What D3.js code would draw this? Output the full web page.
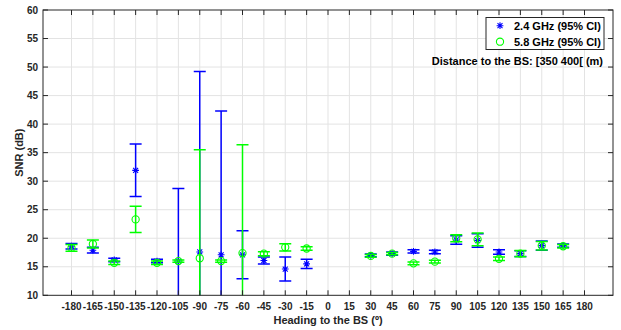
<!DOCTYPE html>
<html><head><meta charset="utf-8">
<script src="https://cdn.jsdelivr.net/npm/d3@7"></script>
<style>body{margin:0;background:#fff}svg{display:block}text{font-family:"Liberation Sans",Arial,sans-serif;font-weight:bold}</style>
</head><body><svg id="c" width="621" height="330"></svg>
<script>
const headings = [-180,-165,-150,-135,-120,-105,-90,-75,-60,-45,-30,-15,0,15,30,45,60,75,90,105,120,135,150,165];
const snr24 = [18.6,17.9,16.2,31.9,16.0,16.0,17.6,17.1,17.1,16.1,14.6,15.5,null,null,17.0,17.3,17.7,17.6,19.7,19.6,17.6,17.3,18.7,18.7];
const ci24  = [0.5,0.5,0.3,4.6,0.3,12.7,31.6,25.2,4.2,0.6,2.1,0.8,null,null,0.25,0.3,0.3,0.3,0.75,1.2,0.4,0.5,0.8,0.3];
const snr58 = [18.3,19.0,15.7,23.3,15.7,16.0,16.5,16.0,17.4,17.3,18.4,18.2,null,null,16.9,17.3,15.6,15.9,20.0,19.8,16.4,17.3,18.7,18.6];
const ci58  = [0.6,0.7,0.3,2.3,0.3,0.2,19.0,0.2,19.0,0.35,0.65,0.3,null,null,0.25,0.2,0.25,0.25,0.6,1.1,0.3,0.55,0.75,0.3];
const xTicks = d3.range(-180,181,15);
const yTicks = d3.range(10,61,5);
const seriesNames = ["2.4 GHz (95% CI)","5.8 GHz (95% CI)"];
const seriesColors = ["#0000ff","#00ff00"];
const xLabel = "Heading to the BS (º)", yLabel = "SNR (dB)";
const note = "Distance to the BS: [350 400[ (m)";

const L=43,R=613,T=10,B=295.3;
const svg=d3.select("#c");
const x=d3.scaleLinear().domain([-200,200]).range([L,R]);
const y=d3.scaleLinear().domain([10,60]).range([B,T]);
const axisCol="#262626";

// grid
svg.append("g").selectAll("line").data(xTicks).join("line")
 .attr("x1",d=>x(d)).attr("x2",d=>x(d)).attr("y1",T).attr("y2",B)
 .attr("stroke","#e3e3e3").attr("stroke-width",1);
svg.append("g").selectAll("line").data(yTicks.filter(v=>v>10&&v<60)).join("line")
 .attr("x1",L).attr("x2",R).attr("y1",d=>y(d)).attr("y2",d=>y(d))
 .attr("stroke","#e3e3e3").attr("stroke-width",1);

// clip
svg.append("clipPath").attr("id","pc").append("rect").attr("x",L).attr("y",T).attr("width",R-L).attr("height",B-T);
const plot=svg.append("g").attr("clip-path","url(#pc)");

const series=[{m:snr24,c:ci24,col:seriesColors[0],mk:"star"},{m:snr58,c:ci58,col:seriesColors[1],mk:"circle"}];
const cap=6;
series.forEach(s=>{
  const g=plot.append("g");
  const pts=headings.map((h,i)=>({h,m:s.m[i],c:s.c[i]})).filter(d=>d.m!=null);
  pts.forEach(d=>{
    const cx=x(d.h), lo=y(d.m-d.c), hi=y(d.m+d.c);
    g.append("line").attr("x1",cx).attr("x2",cx).attr("y1",lo).attr("y2",hi).attr("stroke",s.col).attr("stroke-width",1.5);
    [lo,hi].forEach(yy=>g.append("line").attr("x1",cx-cap).attr("x2",cx+cap).attr("y1",yy).attr("y2",yy).attr("stroke",s.col).attr("stroke-width",1.5));
  });
  pts.forEach(d=>drawMarker(g,s.mk,x(d.h),y(d.m),s.col));
});

function drawMarker(g,mk,cx,cy,col){
  if(mk==="circle"){
    g.append("circle").attr("cx",cx).attr("cy",cy).attr("r",3.6).attr("fill","none").attr("stroke",col).attr("stroke-width",1.1);
  } else {
    const r=3.4,rd=2.5;
    const p=`M${cx-r},${cy}L${cx+r},${cy}M${cx},${cy-r}L${cx},${cy+r}M${cx-rd},${cy-rd}L${cx+rd},${cy+rd}M${cx-rd},${cy+rd}L${cx+rd},${cy-rd}`;
    g.append("path").attr("d",p).attr("stroke",col).attr("stroke-width",1.1).attr("fill","none");
  }
}

// axes box + ticks (inward)
const ax=svg.append("g").attr("stroke",axisCol).attr("stroke-width",1);
ax.append("rect").attr("x",L).attr("y",T).attr("width",R-L).attr("height",B-T).attr("fill","none");
const tl=5;
xTicks.forEach(v=>{
  ax.append("line").attr("x1",x(v)).attr("x2",x(v)).attr("y1",B).attr("y2",B-tl);
  ax.append("line").attr("x1",x(v)).attr("x2",x(v)).attr("y1",T).attr("y2",T+tl);
});
yTicks.forEach(v=>{
  ax.append("line").attr("x1",L).attr("x2",L+tl).attr("y1",y(v)).attr("y2",y(v));
  ax.append("line").attr("x1",R).attr("x2",R-tl).attr("y1",y(v)).attr("y2",y(v));
});
// tick labels
svg.append("g").selectAll("text").data(xTicks).join("text")
 .attr("x",d=>x(d)).attr("y",310).attr("text-anchor","middle").attr("font-size",10).attr("fill",axisCol).text(d=>d);
svg.append("g").selectAll("text").data(yTicks).join("text")
 .attr("x",38).attr("y",d=>y(d)+3.6).attr("text-anchor","end").attr("font-size",10).attr("fill",axisCol).text(d=>d);
// axis labels
svg.append("text").attr("x",(L+R)/2).attr("y",324).attr("text-anchor","middle").attr("font-size",11).attr("fill",axisCol).text(xLabel);
svg.append("text").attr("transform",`translate(23,${(T+B)/2}) rotate(-90)`).attr("text-anchor","middle").attr("font-size",11).attr("fill",axisCol).text(yLabel);

// legend
const lg=svg.append("g");
lg.append("rect").attr("x",486).attr("y",17.5).attr("width",118).attr("height",32).attr("fill","#fff").attr("stroke",axisCol).attr("stroke-width",1);
seriesNames.forEach((n,i)=>{
  const yy=25.7+i*16;
  drawMarker(lg,series[i].mk,500,yy,series[i].col);
  lg.append("text").attr("x",514).attr("y",yy+4).attr("font-size",11).attr("fill","#000").text(n);
});
svg.append("text").attr("x",603).attr("y",65).attr("text-anchor","end").attr("font-size",11).attr("fill","#000").text(note);
</script></body></html>
